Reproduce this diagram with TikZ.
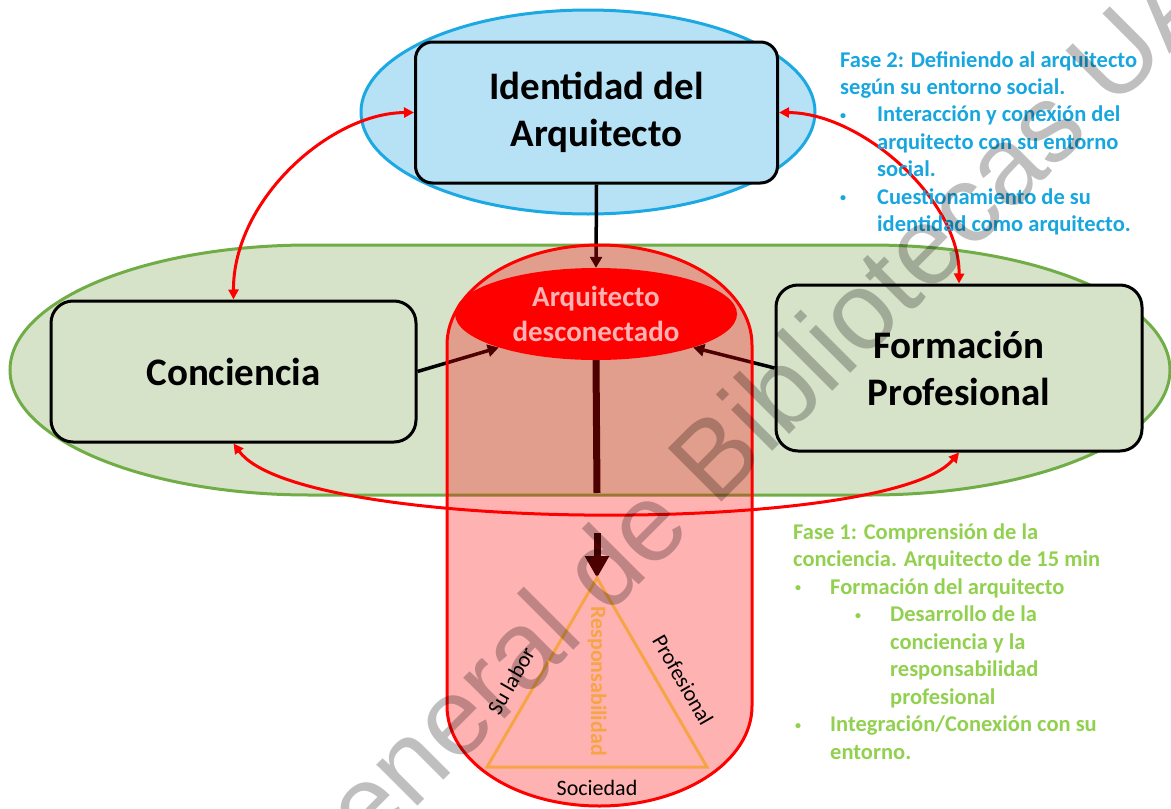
\documentclass[tikz,border=0pt]{standalone}
\usepackage{fontspec}
\setmainfont{Carlito}
\newfontfamily\wmfont{Liberation Sans}
\usetikzlibrary{arrows.meta,shapes.geometric}
\definecolor{gfill}{HTML}{D6E3C9}
\definecolor{gline}{HTML}{70AD47}
\definecolor{bfill}{HTML}{B7E2F5}
\definecolor{bline}{HTML}{1CA8E2}
\definecolor{ftwo}{HTML}{18A6DF}
\definecolor{fone}{HTML}{92D050}
\definecolor{orng}{HTML}{F6A445}
\definecolor{rred}{HTML}{FF0000}
\newcommand{\smallbul}{\raisebox{2.5pt}{\fontsize{12}{12}\selectfont •}}
\begin{document}
\begin{tikzpicture}[x=1pt,y=-1pt,
  boxtxt/.style={font=\fontsize{39}{47}\selectfont\bfseries, align=center},
  idbox/.style={boxtxt, draw=black, line width=3pt, rounded corners=17pt, fill=bfill, inner sep=0pt},
  gbox/.style={boxtxt, draw=black, line width=3pt, rounded corners=22pt, fill=gfill, inner sep=0pt},
  blk/.style={draw=black, line width=3.5pt, -{Triangle[length=11pt,width=12pt]}},
  redarr/.style={draw=rred, line width=3pt, {Triangle[length=10pt,width=10pt]}-{Triangle[length=10pt,width=10pt]}},
  f2/.style={text=ftwo, font=\fontsize{22.5}{27}\selectfont\bfseries, anchor=base west, inner sep=0pt},
  f1/.style={text=fone, font=\fontsize{22.5}{27}\selectfont\bfseries, anchor=base west, inner sep=0pt},
  tri/.style={font=\fontsize{22}{26}\selectfont, inner sep=0pt},
  wm/.style={font=\wmfont\fontsize{110}{120}\selectfont, text=black, opacity=0.25, inner sep=0pt}
]
\useasboundingbox (0,0) rectangle (1171,809);

% green region
\path[fill=gfill, draw=gline, line width=3pt]
  (310,245) -- (870,245) arc[start angle=90, end angle=-90, x radius=300pt, y radius=125pt]
  -- (310,495) arc[start angle=270, end angle=90, x radius=300pt, y radius=125pt] -- cycle;

% blue ellipse
\path[fill=bfill, draw=bline, line width=3pt] (588,112) ellipse[x radius=227pt, y radius=102pt];

% boxes
\node[idbox, minimum width=362pt, minimum height=141pt] (id) at (596.5,112.5) {Identidad del\\Arquitecto};
\node[gbox, minimum width=365pt, minimum height=141pt] (cons) at (233.5,371.5) {Conciencia};
\node[gbox, minimum width=366pt, minimum height=166pt] (form) at (959,368) {Formación\\Profesional};

% red ellipse
\node[ellipse, fill=rred, minimum width=282pt, minimum height=92pt, inner sep=0pt,
      text=white, font=\fontsize{29}{35}\selectfont\bfseries, align=center] (rede) at (596,314) {Arquitecto\\desconectado};

% black connectors
\draw[blk] (id.south) -- (rede.north);
\draw[blk] (cons.east) -- (rede.199);
\draw[blk] (form.west) -- (rede.341);
\coordinate (gapA) at (597,493);
\coordinate (gapB) at (597,533);
\coordinate (apex) at (597,578);
\coordinate (bl) at (487,767);
\coordinate (br) at (707,767);
\draw[black, line width=7pt] (rede.south) -- (gapA);
\draw[black, line width=7pt, -{Triangle[length=22pt,width=23pt]}] (gapB) -- (apex);

% red curved arrows
\draw[redarr] (id.west) .. controls (330,113) and (233,200) .. (cons.north);
\draw[redarr] (id.east) .. controls (862,113) and (960,200) .. (form.north);
\draw[redarr] (cons.south) .. controls (300,535) and (890,535) .. (form.south);

% pill
\path[fill=rred, fill opacity=0.3, draw=rred, line width=3pt]
  (447,345) arc[start angle=180, end angle=0, x radius=152.5pt, y radius=100pt]
  -- (752,706) arc[start angle=0, end angle=-180, x radius=152.5pt, y radius=100pt] -- cycle;

% triangle
\draw[orng, line width=3pt, line join=miter] (apex) -- (bl) -- (br) -- cycle;
\node[tri, text=orng, font=\fontsize{22}{26}\selectfont\bfseries, rotate=-90] (resp) at (597,681) {Responsabilidad};
\node[tri, rotate=60] (labor) at (511,681) {Su labor};
\node[tri, rotate=-60] (prof) at (683,680) {Profesional};
\node[tri] (soc) at (597,788) {Sociedad};

% Fase 2 text
\node[f2] (f2a) at (840,67) {Fase 2: Definiendo al arquitecto};
\node[f2] (f2b) at (840,94.4) {según su entorno social.};
\node[f2] (f2c) at (840,121.8) {\smallbul};
\node[f2] (f2d) at (877,121.8) {Interacción y conexión del};
\node[f2] (f2e) at (877,149.2) {arquitecto con su entorno};
\node[f2] (f2f) at (877,176.6) {social.};
\node[f2] (f2g) at (840,204) {\smallbul};
\node[f2] (f2h) at (877,204) {Cuestionamiento de su};
\node[f2] (f2i) at (877,231.4) {identidad como arquitecto.};

% Fase 1 text
\node[f1] (f1a) at (793,539) {Fase 1: Comprensión de la};
\node[f1] (f1b) at (793,566.5) {conciencia. Arquitecto de 15 min};
\node[f1] (f1c) at (795,594) {\smallbul};
\node[f1] (f1d) at (830,594) {Formación del arquitecto};
\node[f1] (f1e) at (855,621.5) {\smallbul};
\node[f1] (f1f) at (890,621.5) {Desarrollo de la};
\node[f1] (f1g) at (890,649) {conciencia y la};
\node[f1] (f1h) at (890,676.5) {responsabilidad};
\node[f1] (f1i) at (890,704) {profesional};
\node[f1] (f1j) at (795,731.5) {\smallbul};
\node[f1] (f1k) at (830,731.5) {Integración/Conexión con su};
\node[f1] (f1l) at (830,759) {entorno.};

% watermark
\begin{scope}
\clip (0,0) rectangle (1171,809);
\node[wm, rotate=45, anchor=base west] (wmark) at (309,915) {General de Bibliotecas UA};
\end{scope}
\end{tikzpicture}
\end{document}
